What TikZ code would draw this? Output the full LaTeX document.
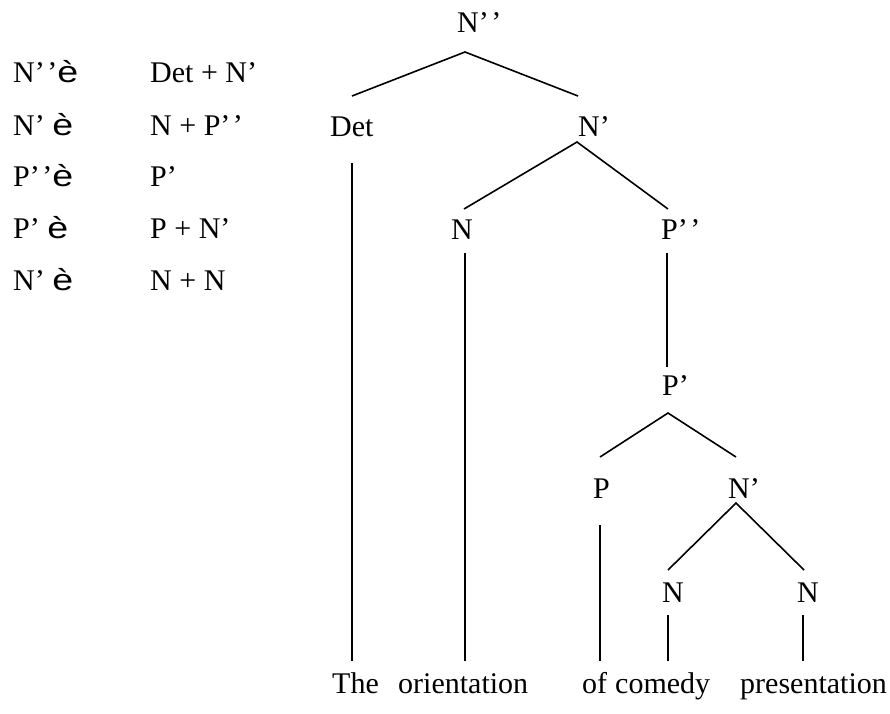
\documentclass[tikz,border=0pt]{standalone}
\usepackage{fontspec}
\usepackage{graphicx}
\setmainfont{Liberation Serif}
\newfontfamily\arrowfont{Liberation Sans}
% the rewrite arrow, set as a wide sans glyph
\newcommand{\rwarrow}{{\arrowfont\scalebox{1.25}[1]{è}}}
% double prime with open spacing between the two marks
\newcommand{\dprime}{’\kern2.5pt’}
\begin{document}
\begin{tikzpicture}[x=1pt,y=-1pt,
  lbl/.style={anchor=base west,inner sep=0pt,font=\fontsize{30}{36}\selectfont},
  branch/.style={line width=1.6pt,line cap=butt}]
\useasboundingbox (0,0) rectangle (890,713);

% rewrite rules
\node[lbl] (r1a) at (13,82)  {N\dprime\rwarrow};
\node[lbl] (r1b) at (150,82) {Det + N’};
\node[lbl] (r2a) at (13,135) {N’ \rwarrow};
\node[lbl] (r2b) at (150,135) {N + P\dprime};
\node[lbl] (r3a) at (13,186) {P\dprime\rwarrow};
\node[lbl] (r3b) at (150,186) {P’};
\node[lbl] (r4a) at (13,238) {P’ \rwarrow};
\node[lbl] (r4b) at (150,238) {P + N’};
\node[lbl] (r5a) at (13,290) {N’ \rwarrow};
\node[lbl] (r5b) at (150,290) {N + N};

% tree labels
\node[lbl] (npp)  at (457,32)  {N\dprime};
\node[lbl] (det)  at (330,136) {Det};
\node[lbl] (nb1)  at (578,136) {N’};
\node[lbl] (n1)   at (451,239) {N};
\node[lbl] (ppp)  at (661,239) {P\dprime};
\node[lbl] (pb)   at (662,395) {P’};
\node[lbl] (p)    at (593,498) {P};
\node[lbl] (nb2)  at (728,498) {N’};
\node[lbl] (n2)   at (662,602) {N};
\node[lbl] (n3)   at (797,602) {N};

% words
\node[lbl] (w1) at (332,693) {The};
\node[lbl] (w2) at (398,693) {orientation};
\node[lbl] (w3) at (582,693) {of};
\node[lbl] (w4) at (615,693) {comedy};
\node[lbl] (w5) at (740,693) {presentation};

% branch points
\coordinate (nppB) at (465,52);
\coordinate (detT) at (352,96);
\coordinate (nb1T) at (578,96);
\coordinate (detB) at (352,163);
\coordinate (w1T)  at (352,661);
\coordinate (nb1B) at (577,142);
\coordinate (n1T)  at (464,209);
\coordinate (pppT) at (668,209);
\coordinate (n1B)  at (465,253);
\coordinate (w2T)  at (465,661);
\coordinate (pppB) at (667,253);
\coordinate (pbT)  at (667,367);
\coordinate (pbB)  at (668,413);
\coordinate (pT)   at (600,457);
\coordinate (nb2T) at (736,457);
\coordinate (pB)   at (600,525);
\coordinate (w3T)  at (600,661);
\coordinate (nb2B) at (736,503);
\coordinate (n2T)  at (668,570);
\coordinate (n3T)  at (804,570);
\coordinate (n2B)  at (668,615);
\coordinate (w4T)  at (668,661);
\coordinate (n3B)  at (803,615);
\coordinate (w5T)  at (803,661);

% branches
\draw[branch] (detT) -- (nppB) -- (nb1T);
\draw[branch] (detB) -- (w1T);
\draw[branch] (n1T) -- (nb1B) -- (pppT);
\draw[branch] (n1B) -- (w2T);
\draw[branch] (pppB) -- (pbT);
\draw[branch] (pT) -- (pbB) -- (nb2T);
\draw[branch] (pB) -- (w3T);
\draw[branch] (n2T) -- (nb2B) -- (n3T);
\draw[branch] (n2B) -- (w4T);
\draw[branch] (n3B) -- (w5T);
\end{tikzpicture}
\end{document}
